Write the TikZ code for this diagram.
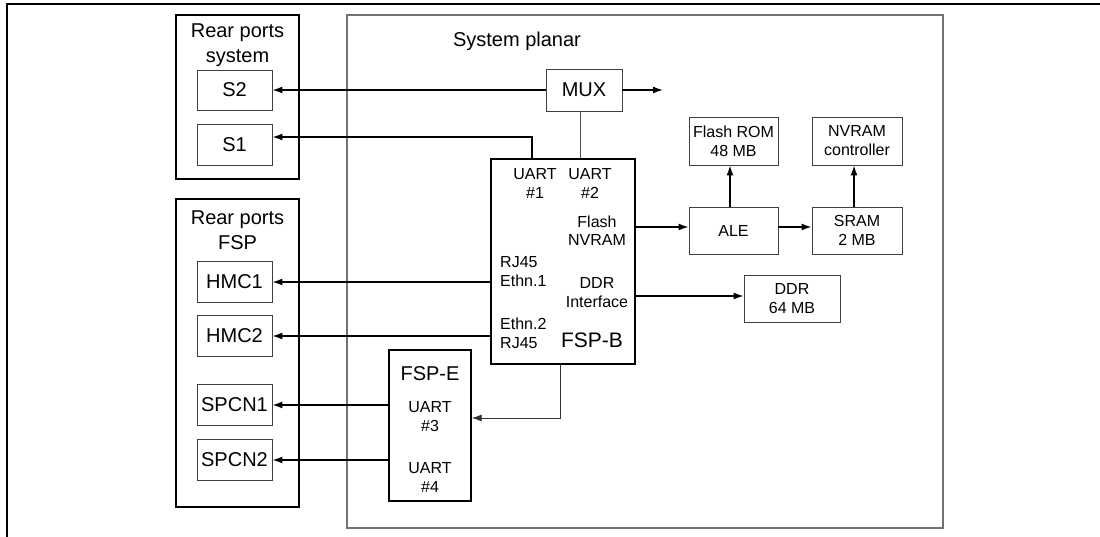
\documentclass[tikz,border=0pt]{standalone}
\usepackage{fontspec}
\setmainfont{Liberation Sans}
\usetikzlibrary{arrows.meta}
\begin{document}
\begin{tikzpicture}[x=1pt,y=-1pt,
  big/.style={font=\fontsize{20}{25}\selectfont, align=center, inner sep=0pt},
  small/.style={font=\fontsize{16}{19}\selectfont, align=center, inner sep=0pt},
  outerbox/.style={draw=black, line width=1.4pt, inner sep=0pt},
  innerbox/.style={draw=black!75, line width=0.9pt, inner sep=0pt},
  planar/.style={draw=black!55, line width=1.2pt, inner sep=0pt},
  arr/.style={line width=1.4pt, -{Latex[length=10pt,width=7pt]}},
  thinline/.style={line width=0.8pt, draw=black!70},
  thinarr/.style={line width=0.9pt, draw=black!80, -{Latex[length=10pt,width=7pt]}}
]
\useasboundingbox (0,0) rectangle (1100,537);
% page frame
\coordinate (fa) at (7,537);
\coordinate (fb) at (7,4);
\coordinate (fc) at (1100,4);
\draw[line width=1.3pt] (fa) -- (fb) -- (fc);

% system planar
\node[planar, minimum width=596pt, minimum height=513pt] (planar) at (645,271.5) {};
\node[big] (planartxt) at (517,41) {System planar};

% rear ports system
\node[outerbox, minimum width=123pt, minimum height=164pt] (rps) at (237.5,97) {};
\node[big] (rpstxt) at (237.5,45) {Rear ports\\system};
\node[innerbox, big, minimum width=75pt, minimum height=40pt] (s2) at (234.5,90) {S2};
\node[innerbox, big, minimum width=75pt, minimum height=41pt] (s1) at (234.5,144.5) {S1};

% rear ports FSP
\node[outerbox, minimum width=123pt, minimum height=308pt] (rpf) at (237.5,353) {};
\node[big] (rpftxt) at (237.5,230) {Rear ports\\FSP};
\node[innerbox, big, minimum width=75pt, minimum height=41pt] (hmc1) at (234.5,282) {HMC1};
\node[innerbox, big, minimum width=75pt, minimum height=41pt] (hmc2) at (234.5,336) {HMC2};
\node[innerbox, big, minimum width=75pt, minimum height=41pt] (spcn1) at (234.5,405) {SPCN1};
\node[innerbox, big, minimum width=75pt, minimum height=41pt] (spcn2) at (234.5,460) {SPCN2};

% MUX
\node[innerbox, big, minimum width=76pt, minimum height=42pt] (mux) at (584,90) {MUX};
\coordinate (muxout) at (663,90);

% FSP-B
\node[outerbox, minimum width=144pt, minimum height=205pt] (fspb) at (563,261.5) {};
\node[small] (u1txt) at (535,183) {UART\\\#1};
\node[small] (u2txt) at (590,183) {UART\\\#2};
\node[small, font=\fontsize{16}{18}\selectfont] (fntxt) at (597,231) {Flash\\NVRAM};
\node[small, align=left, anchor=west] (rj1txt) at (500,271.5) {RJ45\\Ethn.1};
\node[small] (ddrtxt) at (597,293) {DDR\\Interface};
\node[small, align=left, anchor=west] (rj2txt) at (500,333.5) {Ethn.2\\RJ45};
\node[big, font=\fontsize{21}{25}\selectfont] (fspbtxt) at (592,340) {FSP-B};

% FSP-E
\node[outerbox, minimum width=82pt, minimum height=151pt] (fspe) at (430,425.5) {};
\node[big] (fspetxt) at (430,374) {FSP-E};
\node[small] (u3txt) at (430,416.5) {UART\\\#3};
\node[small] (u4txt) at (430,477.5) {UART\\\#4};

% right side boxes
\node[innerbox, small, minimum width=89pt, minimum height=48pt] (flashrom) at (733.5,141) {Flash ROM\\48 MB};
\node[innerbox, small, minimum width=90pt, minimum height=48pt] (nvram) at (857,141) {NVRAM\\controller};
\node[innerbox, small, minimum width=89pt, minimum height=47pt] (ale) at (733.5,230.5) {ALE};
\node[innerbox, small, minimum width=90pt, minimum height=47pt] (sram) at (857,230.5) {SRAM\\2 MB};
\node[innerbox, small, minimum width=96pt, minimum height=47pt] (ddr) at (792,298.5) {DDR\\64 MB};

% connectors
\draw[arr] (mux.west) -- (s2.east);
\draw[arr] (mux.east) -- (muxout);
\draw[thinline] ([xshift=-4pt]mux.south) -- ([xshift=-4pt]mux.south |- fspb.north);
\coordinate (u1top) at (532,159);
\coordinate (s1in) at ([yshift=7.5pt]s1.east);
\draw[arr] (u1top) |- (s1in);

\draw[arr] (fspb.west |- hmc1.east) -- (hmc1.east);
\draw[arr] (fspb.west |- hmc2.east) -- (hmc2.east);
\draw[arr] (fspe.west |- spcn1.east) -- (spcn1.east);
\draw[arr] (fspe.west |- spcn2.east) -- (spcn2.east);

\draw[thinarr] ([xshift=-3pt]fspb.south) |- ([yshift=7.5pt]fspe.east);

\coordinate (alein) at ([yshift=3.5pt]ale.west);
\draw[arr] (fspb.east |- alein) -- (alein);
\draw[arr] ([yshift=3.5pt]ale.east) -- ([yshift=3.5pt]sram.west);
\draw[arr] ([xshift=-3.5pt]ale.north) -- ([xshift=-3.5pt]flashrom.south);
\draw[arr] ([xshift=-3pt]sram.north) -- ([xshift=-3pt]nvram.south);
\coordinate (ddrin) at ([yshift=2.5pt]ddr.west);
\draw[arr] (fspb.east |- ddrin) -- (ddrin);
\end{tikzpicture}
\end{document}
